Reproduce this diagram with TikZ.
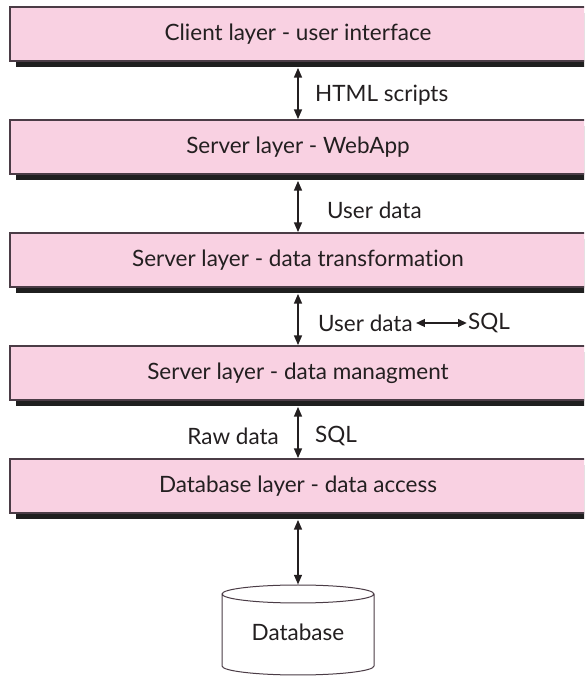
\documentclass[tikz,border=0pt]{standalone}
\usepackage{fontspec}
\setmainfont[Ligatures={NoCommon,NoRare,NoDiscretionary}]{Lato}
\usetikzlibrary{arrows.meta,shadows}
\definecolor{boxpink}{RGB}{249,209,226}
\definecolor{boxline}{RGB}{75,60,70}
\definecolor{ink}{RGB}{35,31,32}
\begin{document}
\begin{tikzpicture}[x=1pt,y=1pt,
  layerbox/.style={draw=boxline, line width=1.1pt, fill=boxpink,
    minimum width=576pt, minimum height=54pt, inner sep=0pt,
    font=\fontsize{22.5}{24}\selectfont, text=ink,
    general shadow={fill=black!88, shadow xshift=6pt, shadow yshift=-6pt}},
  lbl/.style={font=\fontsize{22.5}{24}\selectfont, text=ink, inner sep=0pt},
  varrow/.style={{Triangle[length=10pt,width=7.5pt]}-{Triangle[length=10pt,width=7.5pt]},
    line width=2.8pt, draw=ink},
  harrow/.style={{Triangle[length=9pt,width=7.5pt]}-{Triangle[length=9pt,width=7.5pt]},
    line width=2.4pt, draw=ink, shorten <=3pt, shorten >=1pt},
  dbline/.style={draw=boxline, line width=1pt, fill=white}
]
\useasboundingbox (0,0) rectangle (584,677);
\begin{scope}
\clip (0,0) rectangle (584,677);
\node[layerbox] (b1) at (298,643) {Client layer - user interface};
\node[layerbox] (b2) at (298,530) {Server layer - WebApp};
\node[layerbox] (b3) at (298,417) {Server layer - data transformation};
\node[layerbox] (b4) at (298,304) {Server layer - data managment};
\node[layerbox] (b5) at (298,191) {Database layer - data access};
\end{scope}

\node[lbl, anchor=west] (l1) at (315,582) {HTML scripts};
\node[lbl, anchor=west] (l2) at (327,467) {User data};
\node[lbl, anchor=west] (l3a) at (318,354) {User data};
\node[lbl, anchor=west] (l3b) at (468,354) {SQL};
\node[lbl, anchor=east] (l4a) at (279,241) {Raw data};
\node[lbl, anchor=west] (l4b) at (315,241) {SQL};

% database cylinder
\node[minimum width=152pt, minimum height=90pt, inner sep=0pt] (dbbox) at (298,47) {};
\draw[dbline] (222,83) -- (222,11) arc[start angle=180, end angle=360, x radius=76, y radius=9]
  -- (374,83) arc[start angle=0, end angle=360, x radius=76, y radius=9];
\node[lbl] (db) at (298,45) {Database};

\draw[varrow] ([yshift=-6pt]b1.south) -- (b2.north);
\draw[varrow] ([yshift=-6pt]b2.south) -- (b3.north);
\draw[varrow] ([yshift=-6pt]b3.south) -- (b4.north);
\draw[varrow] ([yshift=-6pt]b4.south) -- (b5.north);
\draw[varrow] ([yshift=-6pt]b5.south) -- (dbbox.north);
\draw[harrow] (l3a.east) -- (l3b.west);
\end{tikzpicture}
\end{document}
